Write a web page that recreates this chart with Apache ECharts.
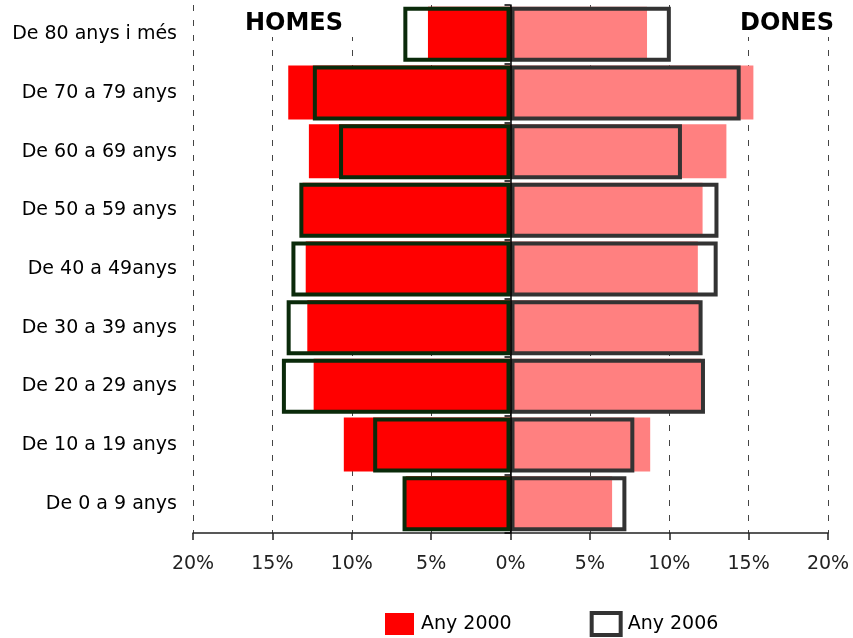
<!DOCTYPE html>
<html>
<head>
<meta charset="utf-8">
<script src="https://cdn.jsdelivr.net/npm/echarts@6/dist/echarts.min.js"></script>
<style>
html,body{margin:0;padding:0;background:#fff;}
#chart{width:853px;height:638px;}
</style>
</head>
<body>
<div id="chart"></div>
<script>
// Categories listed bottom to top
var categories = ['De 0 a 9 anys','De 10 a 19 anys','De 20 a 29 anys','De 30 a 39 anys','De 40 a 49anys','De 50 a 59 anys','De 60 a 69 anys','De 70 a 79 anys','De 80 anys i més'];
var homes2000 = [6.6, 10.5, 12.4, 12.8, 12.9, 13.1, 12.7, 14.0, 5.2];
var homes2006 = [6.8, 8.65, 14.4, 14.1, 13.8, 13.3, 10.8, 12.45, 6.75];
var dones2000 = [6.4, 8.8, 12.0, 11.9, 11.8, 12.1, 13.6, 15.3, 8.6];
var dones2006 = [7.3, 7.8, 12.25, 12.1, 13.05, 13.1, 10.8, 14.5, 10.1];
var xTicks = [-20, -15, -10, -5, 0, 5, 10, 15, 20];
var seriesNames = ['Any 2000', 'Any 2006'];
var sideTitles = ['HOMES', 'DONES'];

var FONT = '"DejaVu Sans", Verdana, sans-serif';
var neg = function (arr) { return arr.map(function (v) { return -v; }); };

var chart = echarts.init(document.getElementById('chart'), null, {renderer: 'canvas'});
var option = {
  animation: false,
  backgroundColor: '#fff',
  grid: {left: 193, right: 25, top: 5, bottom: 105, containLabel: false},
  legend: {
    left: 385, top: 611, padding: 0,
    itemWidth: 29, itemHeight: 22, itemGap: 78,
    textStyle: {fontFamily: FONT, fontSize: 19, color: '#000', padding: [0, 0, 0, 2]},
    selectedMode: false,
    data: [
      {name: seriesNames[0], icon: 'rect', itemStyle: {color: '#ff0000', borderWidth: 0}},
      {name: seriesNames[1], icon: 'rect', itemStyle: {color: '#ffffff', borderColor: '#333333', borderWidth: 4}}
    ]
  },
  xAxis: {
    type: 'value', min: xTicks[0], max: xTicks[xTicks.length - 1], interval: 5,
    axisLine: {show: true, onZero: false, lineStyle: {color: '#222', width: 1.5}},
    axisTick: {show: true, length: 7, lineStyle: {color: '#222', width: 1.5}},
    axisLabel: {
      fontFamily: FONT, fontSize: 19, color: '#222', margin: 22,
      formatter: function (v) { return Math.abs(v) + '%'; }
    },
    splitLine: {show: true, lineStyle: {color: '#444', width: 1, type: [6, 9]}}
  },
  yAxis: [
    {
      type: 'category', data: categories, position: 'left',
      axisLine: {show: false, onZero: false},
      axisTick: {show: false},
      axisLabel: {fontFamily: FONT, fontSize: 19, color: '#000', margin: 16},
      splitLine: {show: false}
    },
    {
      type: 'category', data: categories, position: 'left', z: 5,
      axisLine: {show: true, onZero: true, lineStyle: {color: '#000', width: 1.5}},
      axisTick: {show: true, length: 6, lineStyle: {color: '#000', width: 1.5}},
      axisLabel: {show: false},
      splitLine: {show: false}
    }
  ],
  series: [
    {
      name: seriesNames[0], type: 'bar', stack: 's2000', data: neg(homes2000),
      barWidth: 54, barGap: '-100%',
      itemStyle: {color: '#ff0000'}
    },
    {
      name: seriesNames[0], type: 'bar', stack: 's2000', data: dones2000,
      barWidth: 54, barGap: '-100%',
      itemStyle: {color: '#ff8080'}
    },
    {
      name: seriesNames[1], type: 'bar', stack: 's2006', data: dones2006,
      barWidth: 55, barGap: '-100%',
      itemStyle: {color: 'rgba(0,0,0,0)', borderColor: '#333333', borderWidth: 4}
    },
    {
      name: seriesNames[1], type: 'bar', stack: 's2006', data: neg(homes2006),
      barWidth: 55, barGap: '-100%',
      itemStyle: {color: 'rgba(0,0,0,0)', borderColor: '#0a2a0a', borderWidth: 4}
    }
  ],
  graphic: [
    {type: 'rect', silent: true, z: 50, shape: {x: 238, y: 0, width: 118, height: 37}, style: {fill: '#fff'}},
    {type: 'text', silent: true, z: 51, x: 294, y: 24,
      style: {text: sideTitles[0], font: 'bold 24px ' + FONT, fill: '#000', align: 'center', verticalAlign: 'middle', textAlign: 'center', textVerticalAlign: 'middle'}},
    {type: 'rect', silent: true, z: 50, shape: {x: 733, y: 0, width: 110, height: 37}, style: {fill: '#fff'}},
    {type: 'text', silent: true, z: 51, x: 787, y: 24,
      style: {text: sideTitles[1], font: 'bold 24px ' + FONT, fill: '#000', align: 'center', verticalAlign: 'middle', textAlign: 'center', textVerticalAlign: 'middle'}}
  ]
};
chart.setOption(option);
</script>
</body>
</html>
